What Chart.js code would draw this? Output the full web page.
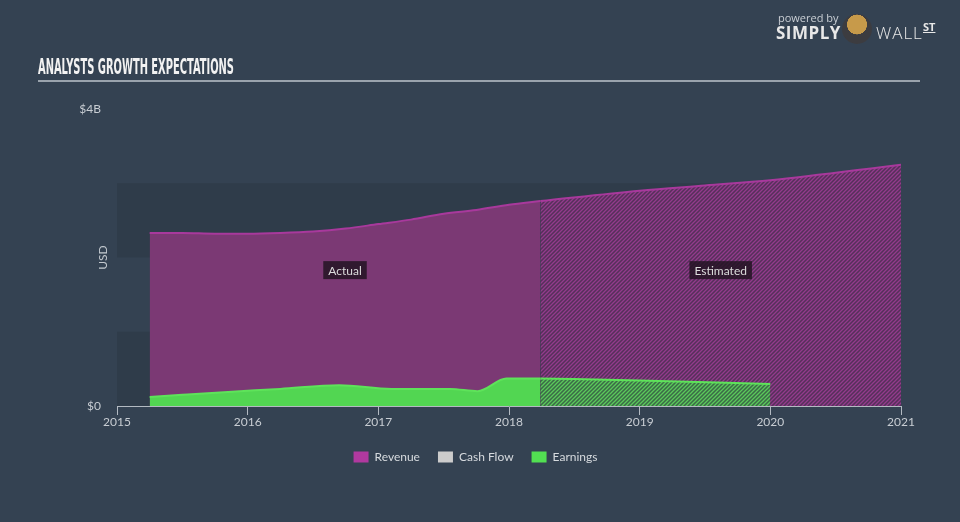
<!DOCTYPE html>
<html>
<head>
<meta charset="utf-8">
<script src="https://cdn.jsdelivr.net/npm/chart.js@4.4.1/dist/chart.umd.min.js"></script>
<style>
  html, body { margin: 0; padding: 0; background: #344252; }
  #wrap { position: relative; width: 960px; height: 522px; overflow: hidden; }
  #c { position: absolute; left: 0; top: 0; }
  #title { position: absolute; left: 38px; top: 54px; font-family: "DejaVu Sans Condensed", "DejaVu Sans"; font-weight: bold;
    font-size: 22px; color: #f2f2f2; transform: scaleX(0.5); transform-origin: left top; white-space: nowrap; }
  #rule { position: absolute; left: 38px; top: 80px; width: 882px; height: 2px; background: #9aa3ad; }
  #logo { position: absolute; left: 776px; top: 10px; width: 180px; height: 40px; font-family: "Open Sans", sans-serif; color: #e8e8e8; }
  #logo .pw { position: absolute; left: 2px; top: 0px; font-size: 11px; color: #c9ced4; }
  #logo .simply { position: absolute; left: 0px; top: 11px; font-size: 17px; font-weight: bold; letter-spacing: 0.5px; }
  #logo .bull { position: absolute; left: 66px; top: 4px; width: 30px; height: 30px; border-radius: 50%; background: radial-gradient(circle at 50% 35%, #c79a4a 0 40%, #3c3c40 41%); }
  #logo .wall { position: absolute; left: 100px; top: 11px; font-size: 17px; font-weight: 300; letter-spacing: 1px; }
  #logo .st { position: absolute; left: 147px; top: 9px; font-size: 11px; font-weight: bold; text-decoration: underline; }
</style>
</head>
<body>
<div id="wrap">
  <canvas id="c" width="960" height="522"></canvas>
  <div id="title">ANALYSTS GROWTH EXPECTATIONS</div>
  <div id="rule"></div>
  <div id="logo"><span class="pw">powered by</span><span class="simply">SIMPLY</span><span class="bull"></span><span class="wall">WALL</span><span class="st">ST</span></div>
</div>
<script>
// values in billions USD, x = year
var revYears = [2015.25, 2015.5, 2015.75, 2016, 2016.25, 2016.5, 2016.75, 2017, 2017.25, 2017.5, 2017.75, 2018, 2018.24];
var revActual = [2.33, 2.33, 2.32, 2.32, 2.33, 2.35, 2.39, 2.45, 2.51, 2.59, 2.64, 2.71, 2.76];
var revEstYears = [2018.24, 2019, 2019.5, 2020, 2021];
var revEst = [2.76, 2.9, 2.97, 3.04, 3.25];

var earnYears = [2015.25, 2015.5, 2015.85, 2016.25, 2016.7, 2017.1, 2017.55, 2017.76, 2017.98, 2018.24];
var earnActual = [0.12, 0.15, 0.19, 0.23, 0.28, 0.23, 0.23, 0.2, 0.37, 0.37];
var earnEstYears = [2018.24, 2019, 2020];
var earnEst = [0.37, 0.345, 0.295];

var yearTicks = [2015, 2016, 2017, 2018, 2019, 2020, 2021];
var legendNames = ['Revenue', 'Cash Flow', 'Earnings'];
var legendColors = ['#b0399f', '#cccccc', '#52e052'];

function pts(xs, ys) {
  var out = [];
  for (var i = 0; i < xs.length; i++) out.push({x: xs[i], y: ys[i]});
  return out;
}

function hatch(base, line) {
  var p = document.createElement('canvas');
  p.width = 4; p.height = 4;
  var g = p.getContext('2d');
  g.fillStyle = base;
  g.fillRect(0, 0, 4, 4);
  g.strokeStyle = line;
  g.lineWidth = 1.3;
  g.beginPath();
  g.moveTo(-1, 5); g.lineTo(5, -1);
  g.moveTo(-1, 1); g.lineTo(1, -1);
  g.moveTo(3, 5); g.lineTo(5, 3);
  g.stroke();
  return document.getElementById('c').getContext('2d').createPattern(p, 'repeat');
}

var purpleHatch = hatch('#55305a', '#933b8c');
var greenHatch = hatch('#3b6a47', '#5bc95b');

// dark background bands every other billion
var bands = {
  id: 'bands',
  beforeDatasetsDraw: function(chart) {
    var ctx = chart.ctx, a = chart.chartArea, y = chart.scales.y;
    ctx.save();
    ctx.fillStyle = '#2f3c4a';
    [[0, 1], [2, 3]].forEach(function(b) {
      var t = y.getPixelForValue(b[1]), bo = y.getPixelForValue(b[0]);
      ctx.fillRect(a.left, t, a.right - a.left, bo - t);
    });
    ctx.restore();
  }
};

var notes = {
  id: 'notes',
  afterDatasetsDraw: function(chart) {
    var ctx = chart.ctx, x = chart.scales.x, y = chart.scales.y;
    ctx.save();
    ctx.font = '12px Lato';
    ctx.textAlign = 'center';
    ctx.textBaseline = 'middle';
    [['Actual', (2015.25 + 2018.24) / 2], ['Estimated', (2018.24 + 2021) / 2]].forEach(function(n) {
      var cx = x.getPixelForValue(n[1]), cy = y.getPixelForValue(1.83);
      var w = ctx.measureText(n[0]).width + 10;
      ctx.fillStyle = 'rgba(35,20,35,0.85)';
      ctx.fillRect(cx - w / 2, cy - 9, w, 18);
      ctx.fillStyle = '#dcdcdc';
      ctx.fillText(n[0], cx, cy + 1);
    });
    // USD axis name
    ctx.translate(103, y.getPixelForValue(2));
    ctx.rotate(-Math.PI / 2);
    ctx.fillStyle = '#c3c9cf';
    ctx.fillText('USD', 0, 0);
    ctx.restore();
  }
};

new Chart(document.getElementById('c'), {
  type: 'line',
  data: {
    datasets: [
      { label: 'Revenue', data: pts(revYears, revActual), order: 3, fill: 'origin',
        backgroundColor: '#7b3974', borderColor: '#a8399c', borderWidth: 2 },
      { label: 'Cash Flow', data: [], order: 2, backgroundColor: '#cccccc', borderColor: '#cccccc' },
      { label: 'Earnings', data: pts(earnYears, earnActual), order: 1, fill: 'origin',
        backgroundColor: '#52d652', borderColor: '#5ee35a', borderWidth: 2 },
      { label: 'Revenue est', data: pts(revEstYears, revEst), order: 3, fill: 'origin',
        backgroundColor: purpleHatch, borderColor: '#a8399c', borderWidth: 2 },
      { label: 'Earnings est', data: pts(earnEstYears, earnEst), order: 1, fill: 'origin',
        backgroundColor: greenHatch, borderColor: '#5ee35a', borderWidth: 2 }
    ]
  },
  options: {
    responsive: false,
    animation: false,
    layout: { padding: { left: 0, right: 9, top: 109, bottom: 49 } },
    elements: { point: { radius: 0 }, line: { cubicInterpolationMode: 'monotone' } },
    scales: {
      x: {
        type: 'linear', min: 2015, max: 2021,
        afterBuildTicks: function(s) { s.ticks = yearTicks.map(function(v) { return {value: v}; }); },
        afterFit: function(s) { s.height = 27; },
        ticks: { color: '#c8cdd3', font: { family: 'Lato', size: 12 }, padding: 0, maxRotation: 0,
          callback: function(v) { return String(v); } },
        grid: { drawOnChartArea: false, drawTicks: true, tickLength: 9, color: '#b3bac2' },
        border: { color: '#b3bac2', width: 1 }
      },
      y: {
        min: 0, max: 4,
        afterBuildTicks: function(s) { s.ticks = [{value: 0}, {value: 4}]; },
        afterFit: function(s) { s.width = 117; },
        ticks: { color: '#c8cdd3', font: { family: 'Lato', size: 12 }, padding: 16,
          callback: function(v) { return v === 0 ? '$0' : '$' + v + 'B'; } },
        grid: { display: false, drawTicks: false },
        border: { display: false }
      },
      // empty spacer on the right so the legend centres on the page
      side: {
        position: 'right', min: 0, max: 4,
        afterFit: function(s) { s.width = 50; },
        ticks: { display: false },
        grid: { display: false, drawTicks: false },
        border: { display: false }
      }
    },
    plugins: {
      tooltip: { enabled: false },
      legend: {
        position: 'bottom',
        labels: {
          color: '#d6dade', font: { family: 'Lato', size: 12 }, boxWidth: 15, boxHeight: 11, padding: 18,
          generateLabels: function(chart) {
            return legendNames.map(function(n, i) {
              return { text: n, fillStyle: legendColors[i], strokeStyle: legendColors[i], lineWidth: 0,
                fontColor: '#d6dade', datasetIndex: i, hidden: false };
            });
          }
        }
      }
    }
  },
  plugins: [bands, notes]
});
</script>
</body>
</html>
